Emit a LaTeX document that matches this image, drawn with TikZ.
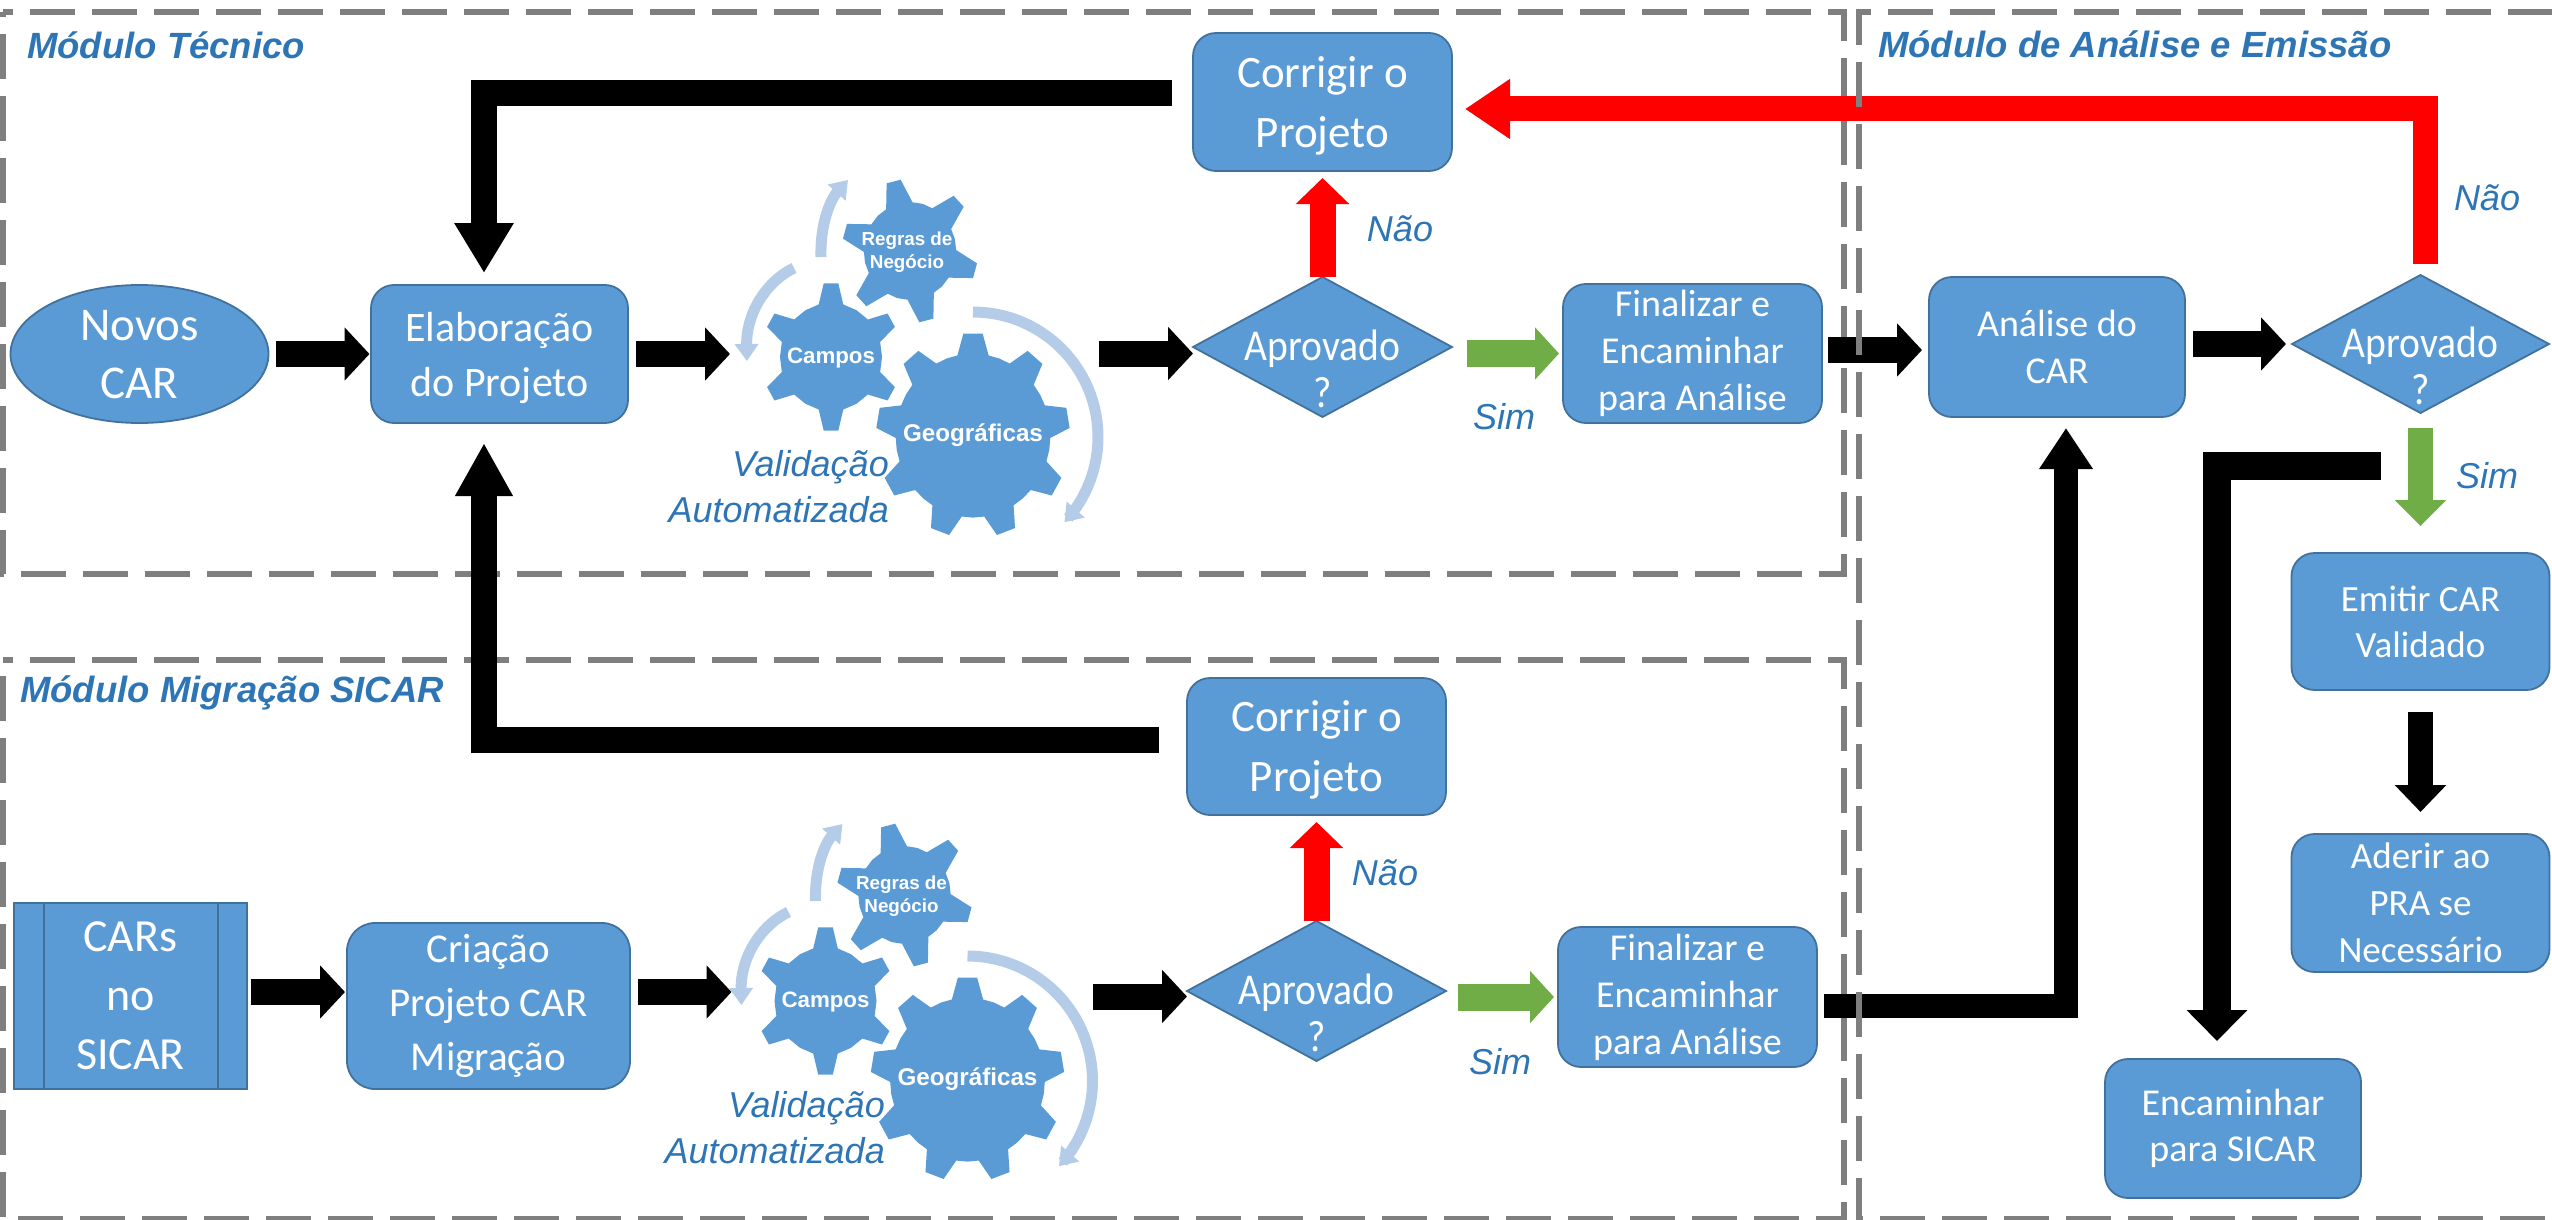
\documentclass[tikz,border=0pt]{standalone}
\usepackage{fontspec}
\setmainfont{Carlito}
\newfontfamily\arialf{Liberation Sans}
\newfontfamily\dianarrow[FakeStretch=0.9]{Carlito}
\usetikzlibrary{arrows.meta,shapes.geometric,calc}
\definecolor{boxblue}{HTML}{5B9BD5}
\definecolor{boxedge}{HTML}{41719C}
\definecolor{labblue}{HTML}{2E75B6}
\definecolor{dashgray}{HTML}{7F7F7F}
\definecolor{okgreen}{HTML}{70AD47}
\definecolor{arcblue}{HTML}{B4CCE8}
\tikzset{
  stepbox/.style={draw=boxedge,line width=1.8pt,fill=boxblue,text=white,rounded corners=23pt,align=center,inner sep=0pt,outer sep=0pt},
  dianode/.style={inner sep=0pt,outer sep=0pt},
  diatext/.style={text=white,align=center,inner sep=0pt,font=\dianarrow\fontsize{44}{47}\selectfont},
  diashape/.style={draw=boxedge,line width=1.8pt,fill=boxblue,line join=miter},
  modbox/.style={draw=dashgray,line width=5.5pt,dash pattern=on 45pt off 17pt},
  modtitle/.style={text=labblue,anchor=west,inner sep=0pt,font=\arialf\bfseries\itshape\fontsize{36.5}{44}\selectfont},
  lab/.style={text=labblue,inner sep=0pt,align=right,font=\arialf\itshape\fontsize{36}{46}\selectfont},
  blockarrow/.style n args={4}{draw=#1,line width=#2pt,line join=miter,-{Triangle[length=#3pt,width=#4pt,fill=#1]}},
  blackarrow/.style={blockarrow={black}{26}{25}{52}},
  greenarrow/.style={blockarrow={okgreen}{27}{24}{51}},
  redarrow/.style={blockarrow={red}{26}{26}{52}},
  arcarrow/.style={draw=arcblue,line width=11pt,-{Triangle[length=17pt,width=23pt,fill=arcblue]}},
  gearwhite/.style={text=white,inner sep=0pt,align=center},
}
% cx cy R r n a0 halftip halfbase
\newcommand\gearfill[8]{%
  \fill[boxblue] ({#1+.945*#4*cos(#6+#8)},{#2-#4*sin(#6+#8)})
    \foreach \k [evaluate=\k as \a using {#6-(\k-1)*360/#5}] in {1,...,#5}{
      -- ({#1+.945*#4*cos(\a+#8)},{#2-#4*sin(\a+#8)})
      -- ({#1+.945*#3*cos(\a+#7)},{#2-#3*sin(\a+#7)})
      -- ({#1+.945*#3*cos(\a-#7)},{#2-#3*sin(\a-#7)})
      -- ({#1+.945*#4*cos(\a-#8)},{#2-#4*sin(\a-#8)})
      -- ({#1+.945*#4*cos(\a-90/#5)},{#2-#4*sin(\a-90/#5)})
      -- ({#1+.945*#4*cos(\a-180/#5)},{#2-#4*sin(\a-180/#5)})
      -- ({#1+.945*#4*cos(\a-270/#5)},{#2-#4*sin(\a-270/#5)})
    } -- cycle;
}
\newcommand\gearcluster[3]{%
  \begin{scope}[shift={(#1,#2)}]
    \draw[arcarrow] (794,268) .. controls (765,282) and (746,315) .. (747,361);
    \draw[arcarrow] (821,257) .. controls (820,225) and (830,200) .. (848,180);
    \draw[arcarrow] plot[smooth,variable=\t,domain=90:-43,samples=30] ({973+125*cos(\t)},{437-125*sin(\t)});
    \gearfill{910}{251}{72}{49}{6}{104}{6.1}{17}
    \gearfill{831}{357}{74}{54}{6}{90}{6}{14}
    \gearfill{973}{435.6}{102.6}{82}{9}{90}{5.7}{11.6}
    \node[gearwhite,font=\arialf\bfseries\fontsize{18.8}{23.5}\selectfont] (regras#3) at (907,252) {Regras de\\Negócio};
    \node[gearwhite,font=\arialf\bfseries\fontsize{22.3}{26}\selectfont] (campos#3) at (831,358) {Campos};
    \node[gearwhite,font=\arialf\bfseries\fontsize{24.2}{28}\selectfont] (geo#3) at (973,435) {Geográficas};
  \end{scope}
}
\begin{document}
\begin{tikzpicture}[x=1pt,y=-1pt]
\useasboundingbox (0,0) rectangle (2552,1220);
% module frames under the arrows
\draw[modbox,dash phase=35pt] (3,12) -- (1844,12) -- (1844,574) -- (3,574) -- cycle;
\draw[modbox,dash phase=35pt] (3,660) -- (1844,660) -- (1844,1219) -- (3,1219) -- cycle;

\node[modtitle] (t1) at (27,45) {Módulo Técnico};
\node[modtitle] (t2) at (20,693) {Módulo Migração SICAR};
\node[modtitle] (t3) at (1878,44) {Módulo de Análise e Emissão};

% boxes
\node[stepbox,shape=ellipse,minimum width=258pt,minimum height=138pt,font=\fontsize{47}{58}\selectfont] (novos) at (139.5,354) {\smash{\raisebox{-10pt}{\begin{tabular}{@{}c@{}}Novos\\[0pt]CAR\end{tabular}}}};
\node[stepbox,minimum width=257pt,minimum height=138pt,text depth=0pt,font=\fontsize{42}{55}\selectfont] (elab) at (499.5,354) {Elaboração\\do Projeto};
\node[stepbox,minimum width=259pt,minimum height=138pt,text depth=0pt,font=\fontsize{45}{60}\selectfont] (cor1) at (1322.5,102) {Corrigir o\\Projeto};
\node[stepbox,minimum width=259pt,minimum height=139pt,font=\fontsize{38}{47}\selectfont] (fin1) at (1692.5,353.5) {Finalizar e\\Encaminhar\\para Análise};
\node[stepbox,minimum width=256pt,minimum height=140pt,font=\fontsize{38}{47}\selectfont] (ana) at (2057,347) {Análise do\\CAR};
\node[stepbox,minimum width=258pt,minimum height=137pt,font=\fontsize{37}{46}\selectfont] (emi) at (2420.5,621.5) {Emitir CAR\\Validado};
\node[stepbox,minimum width=258pt,minimum height=138pt,font=\fontsize{37}{47}\selectfont] (ade) at (2420.5,903) {Aderir ao\\PRA se\\Necessário};
\node[stepbox,minimum width=256pt,minimum height=139pt,font=\fontsize{38}{46}\selectfont] (enc) at (2233,1128.5) {Encaminhar\\para SICAR};
\node[stepbox,rounded corners=0pt,minimum width=233pt,minimum height=186pt,font=\fontsize{46}{59}\selectfont] (car) at (130.5,996) {CARs\\no\\SICAR};
\draw[draw=boxedge,line width=1.8pt] ([xshift=30pt]car.north west) -- ([xshift=30pt]car.south west);
\draw[draw=boxedge,line width=1.8pt] ([xshift=-29pt]car.north east) -- ([xshift=-29pt]car.south east);
\node[stepbox,minimum width=283pt,minimum height=166pt,rounded corners=28pt,font=\fontsize{41}{54}\selectfont] (cri) at (488.5,1006) {Criação\\Projeto CAR\\Migração};
\node[stepbox,minimum width=259pt,minimum height=137pt,text depth=0pt,font=\fontsize{45}{60}\selectfont] (cor2) at (1316.5,746.5) {Corrigir o\\Projeto};
\node[stepbox,minimum width=259pt,minimum height=140pt,font=\fontsize{38}{47}\selectfont] (fin2) at (1687.5,997) {Finalizar e\\Encaminhar\\para Análise};

% decisions
\node[dianode,minimum width=259pt,minimum height=140pt] (dia1) at (1322.5,347) {};
\draw[diashape] (dia1.north) -- (dia1.east) -- (dia1.south) -- (dia1.west) -- cycle;
\node[diatext] (dia1t) at ([yshift=-22pt]dia1.center) {Aprovado\\?};
\node[dianode,minimum width=259pt,minimum height=140pt] (dia3) at (1316.5,991) {};
\draw[diashape] (dia3.north) -- (dia3.east) -- (dia3.south) -- (dia3.west) -- cycle;
\node[diatext] (dia3t) at ([yshift=-22pt]dia3.center) {Aprovado\\?};
\node[dianode,minimum width=257pt,minimum height=138pt] (dia2) at (2420.5,344) {};
\draw[diashape] (dia2.north) -- (dia2.east) -- (dia2.south) -- (dia2.west) -- cycle;
\node[diatext] (dia2t) at ([yshift=-22pt]dia2.center) {Aprovado\\?};

% gears
\gearcluster{0}{0}{a}
\gearcluster{-5.5}{644}{b}
\node[lab,anchor=east] (val1) at (889,487) {Validação\\Automatizada};
\node[lab,anchor=east] (val2) at (885,1128) {Validação\\Automatizada};

% arrows top row
\draw[blackarrow] ([xshift=7pt]novos.east) -- ([xshift=-1.5pt]elab.west);
\draw[blackarrow] ([xshift=8pt]elab.east) -- ([xshift=-101pt,yshift=4pt]camposa.center);
\draw[blackarrow] ([xshift=126pt,yshift=81.5pt]geoa.center) -- ([yshift=-6.5pt]dia1.west);
\draw[greenarrow] ([xshift=14.5pt,yshift=-6.5pt]dia1.east) -- ([xshift=-4pt]fin1.west);
\draw[redarrow] (dia1.north) -- ([yshift=-7pt]cor1.south);
\draw[blockarrow={black}{26}{50}{56}] ([xshift=-21pt,yshift=8.5pt]cor1.west) -| ([xshift=-15.5pt,yshift=12pt]elab.north);
\draw[blockarrow={red}{25}{45}{57}] ([xshift=4.5pt,yshift=11pt]dia2.north) |- ([xshift=13pt,yshift=-7pt]cor1.east);
% arrows bottom row
\draw[blackarrow] ([xshift=4pt,yshift=4pt]car.east) -- ([xshift=-2pt,yshift=14pt]cri.west);
\draw[blackarrow] ([xshift=8pt,yshift=14pt]cri.east) -- ([xshift=-94pt,yshift=10pt]camposb.center);
\draw[blackarrow] ([xshift=125pt,yshift=82.5pt]geob.center) -- ([yshift=-5.5pt]dia3.west);
\draw[greenarrow] ([xshift=12pt,yshift=-6pt]dia3.east) -- ([xshift=-4pt]fin2.west);
\draw[redarrow] (dia3.north) -- ([yshift=-7pt]cor2.south);
\draw[blockarrow={black}{26}{53}{54}] ([xshift=-28pt,yshift=6.5pt]cor2.west) -| ([xshift=-15.5pt,yshift=-20pt]elab.south);
\draw[blockarrow={black}{24}{41}{51}] ([xshift=7pt,yshift=-9pt]fin2.east) -| ([xshift=9pt,yshift=-11pt]ana.south);
% arrows right column
\draw[blackarrow] ([xshift=6pt,yshift=3.5pt]fin1.east) -- ([xshift=-7pt,yshift=-3pt]ana.west);
\draw[blackarrow] ([xshift=8pt,yshift=3pt]ana.east) -- ([xshift=-6pt]dia2.west);
\draw[blockarrow={okgreen}{25}{26}{50}] ([yshift=-15pt]dia2.south) -- ([yshift=27pt]emi.north);
\draw[blockarrow={black}{25}{27}{50}] ([yshift=-22pt]emi.south) -- ([yshift=22pt]ade.north);
\draw[blockarrow={black}{28}{31}{59}] ([xshift=-39.5pt,yshift=-52.5pt]dia2.south) -| ([xshift=-16pt,yshift=18pt]enc.north);

% frame of the right module over the arrows
\draw[modbox,dash phase=1pt] (2552,12) -- (1859,12) -- (1859,1219) -- (2552,1219);

% labels
\node[lab] (nao1) at (1400,229) {Não};
\node[lab] (sim1) at (1504,417) {Sim};
\node[lab] (nao2) at (1385,873) {Não};
\node[lab] (sim2) at (1500,1062) {Sim};
\node[lab] (nao3) at (2487,198) {Não};
\node[lab] (sim3) at (2487,476) {Sim};
\end{tikzpicture}
\end{document}
